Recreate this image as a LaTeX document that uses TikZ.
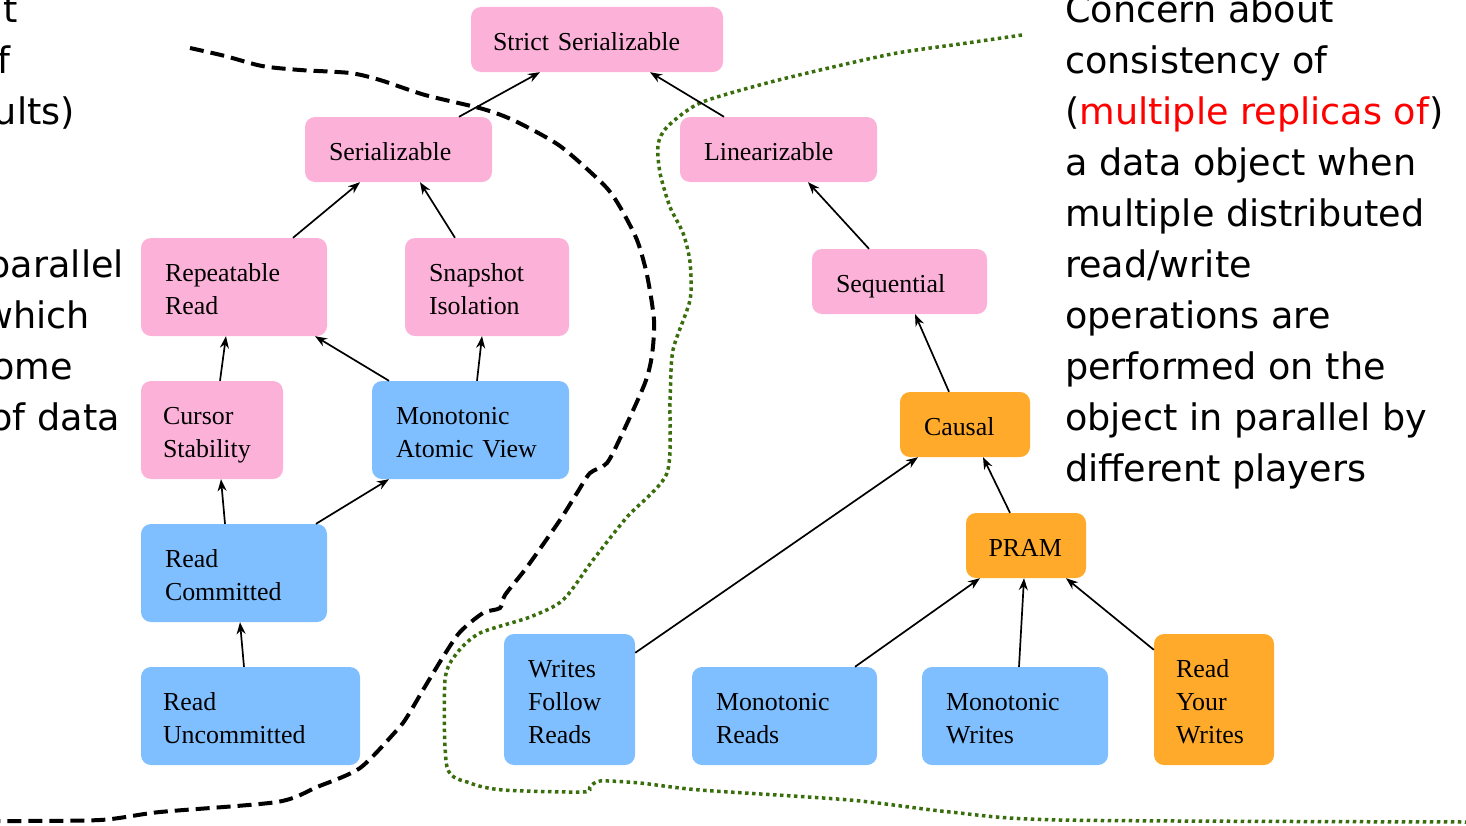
\documentclass[tikz,border=0pt]{standalone}
\usepackage{fontspec}
\setmainfont{Liberation Serif}
\newfontfamily\notefont{DejaVu Sans}
\usetikzlibrary{arrows.meta}

\definecolor{isopink}{RGB}{252,178,216}
\definecolor{isoblue}{RGB}{128,191,255}
\definecolor{isoorange}{RGB}{255,170,42}
\definecolor{bordergreen}{RGB}{58,110,12}

\newcommand\topstrut{\rule{0pt}{29bp}}
\newcommand\bottomstrut{\rule[-7bp]{0pt}{7bp}}

\begin{document}
\begin{tikzpicture}[x=1bp, y=-1bp,
    box/.style={rectangle, rounded corners=10bp, inner xsep=24bp, inner ysep=0pt,
      align=left, font=\fontsize{26}{33}\selectfont,
      execute at begin node=\topstrut, execute at end node=\bottomstrut},
    pinkbox/.style={box, fill=isopink},
    bluebox/.style={box, fill=isoblue},
    orangebox/.style={box, fill=isoorange},
    implies/.style={-{Stealth[length=12bp, width=9bp]}, line width=1.7bp},
    note/.style={font=\notefont\fontsize{36.7}{51}\selectfont, inner sep=0pt}]

    \clip (0,0) rectangle (1466,825);

    % side texts
    \foreach \rx/\k/\frag in {18/0/it, 11/1/f, 75/2/{ults)}, 124/5/parallel,
        90/6/which, 73/7/ome, 120/8/{of data}}
      \node[note, anchor=base east] (left\k) at (\rx, {22.5+51*\k}) {\frag};
    \foreach \words [count=\k from 0] in {Concern about, consistency of,
        {(\textcolor{red}{multiple replicas of})}, a data object when,
        multiple distributed, read/write, operations are, performed on the,
        object in parallel by, different players}
      \node[note, anchor=base west] (right\k) at (1065, {22.5+51*\k}) {\words};

    % borders
    \draw[line width=4bp, dash pattern=on 14bp off 7bp] plot[smooth, tension=0.45]
      coordinates {(190,48) (225,56) (262,66) (300,70) (350,73) (380,80) (425,95)
        (483,109) (515,121) (560,146) (604,185) (620,207) (637,240) (647,275)
        (654,320) (652,355) (645,383) (623,432) (607,463) (590,473) (577,493)
        (560,520) (527,567) (505,595) (500,608) (483,613) (460,632) (443,657)
        (423,690) (407,717) (397,730) (360,768) (317,787) (277,802) (160,812)
        (100,820) (0,821)};
    \draw[bordergreen, line width=3.5bp, dash pattern=on 3.5bp off 3.5bp] plot[smooth, tension=0.45]
      coordinates {(1022,35) (967,43) (897,53) (833,67) (767,83) (700,103)
        (667,127) (658,145) (660,173) (670,207) (683,233) (690,262) (690,300)
        (673,350) (670,400) (667,473) (627,517) (593,560) (563,600) (530,617)
        (480,633) (457,653) (445,680) (447,767) (470,783) (503,790) (583,792)
        (590,787) (600,781) (640,783) (700,790) (850,800) (950,812) (1060,820)
        (1466,822)};

    % isolation levels
    \node[pinkbox, inner xsep=22bp, text width=208bp, minimum height=65bp] (strict) at (597,39.5) {Strict Serializable};
    \node[pinkbox, text width=139bp, minimum height=65bp] (ser) at (398.5,149.5) {Serializable};
    \node[pinkbox, text width=138bp, minimum height=98bp] (rr) at (234,287) {Repeatable\\Read};
    \node[pinkbox, text width=116bp, minimum height=98bp] (si) at (487,287) {Snapshot\\Isolation};
    \node[pinkbox, inner xsep=22bp, text width=98bp, minimum height=98bp] (cs) at (212,430) {Cursor\\Stability};
    \node[bluebox, text width=149bp, minimum height=98bp] (mav) at (470.5,430) {Monotonic\\Atomic View};
    \node[bluebox, text width=138bp, minimum height=98bp] (rc) at (234,573) {Read\\Committed};
    \node[bluebox, inner xsep=22bp, text width=175bp, minimum height=98bp] (ru) at (250.5,716) {Read\\Uncommitted};

    % consistency models
    \node[pinkbox, text width=149bp, minimum height=65bp] (lin) at (778.5,149.5) {Linearizable};
    \node[pinkbox, text width=127bp, minimum height=65bp] (seq) at (899.5,281.5) {Sequential};
    \node[orangebox, text width=82bp, minimum height=65bp] (causal) at (965,424.5) {Causal};
    \node[orangebox, inner xsep=22.5bp, text width=75bp, minimum height=65bp] (pram) at (1026,545.5) {PRAM};
    \node[bluebox, text width=83bp, minimum height=131bp] (wfr) at (569.5,699.5) {Writes\\Follow\\Reads};
    \node[bluebox, text width=137bp, minimum height=98bp] (mr) at (784.5,716) {Monotonic\\Reads};
    \node[bluebox, text width=138bp, minimum height=98bp] (mw) at (1015,716) {Monotonic\\Writes};
    \node[orangebox, inner xsep=22bp, text width=76bp, minimum height=131bp] (ryw) at (1214,699.5) {Read\\Your\\Writes};

    % arrows
    \draw[implies] ([xshift=60.5bp]ser.north) -- ([xshift=-57bp]strict.south);
    \draw[implies] ([xshift=-54.5bp]lin.north) -- ([xshift=53bp]strict.south);
    \draw[implies] ([xshift=59bp]rr.north) -- ([xshift=-38.5bp]ser.south);
    \draw[implies] ([xshift=-32bp]si.north) -- ([xshift=21.5bp]ser.south);
    \draw[implies] ([xshift=-30.5bp]seq.north) -- ([xshift=29.5bp]lin.south);
    \draw[implies] ([xshift=8bp]cs.north) -- ([xshift=-8bp]rr.south);
    \draw[implies] ([xshift=-81.5bp]mav.north) -- ([xshift=81bp]rr.south);
    \draw[implies] ([xshift=6.5bp]mav.north) -- ([xshift=-5bp]si.south);
    \draw[implies] ([xshift=-16bp]causal.north) -- ([xshift=15.5bp]seq.south);
    \draw[implies] ([xshift=-9bp]rc.north) -- ([xshift=9bp]cs.south);
    \draw[implies] ([xshift=82bp]rc.north) -- ([xshift=-81.5bp]mav.south);
    \draw[implies] ([xshift=-16bp]pram.north) -- ([xshift=18bp]causal.south);
    \draw[implies] ([yshift=-19bp]wfr.north east) -- ([xshift=-47bp]causal.south);
    \draw[implies] ([xshift=70.5bp]mr.north) -- ([xshift=-46bp]pram.south);
    \draw[implies] ([xshift=4bp]mw.north) -- ([xshift=-2bp]pram.south);
    \draw[implies] ([yshift=-16bp]ryw.north west) -- ([xshift=40bp]pram.south);
    \draw[implies] ([xshift=-6.5bp]ru.north) -- ([xshift=6bp]rc.south);
  \end{tikzpicture}
\end{document}
